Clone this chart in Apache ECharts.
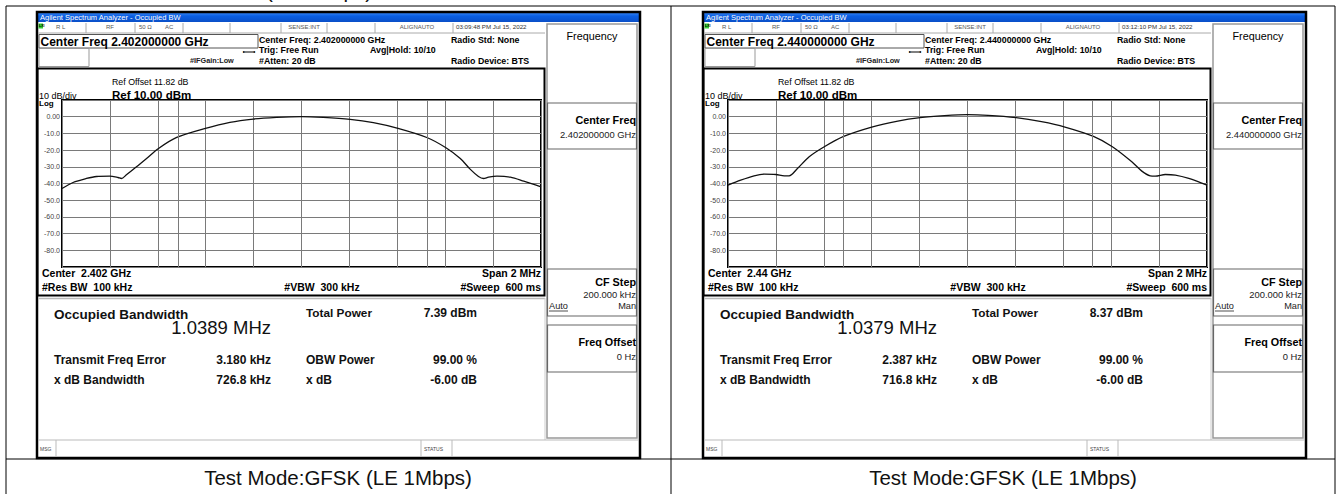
<!DOCTYPE html>
<html>
<head>
<meta charset="utf-8">
<script src="https://cdn.jsdelivr.net/npm/echarts@6/dist/echarts.min.js"></script>
<style>
html, body { margin: 0; padding: 0; background: #fff; }
#main { width: 1338px; height: 494px; }
</style>
</head>
<body>
<div id="main"></div>
<script>
// trace data, frequency offset from center in kHz, level in dBm
var freqL = [-1000, -954, -898, -856, -801, -766, -752, -731, -689, -647, -597, -521, -401, -299, -202, -104, 0, 91, 203, 300, 403, 526, 603, 663, 704, 739, 760, 781, 816, 872, 928, 1000];
var levelL = [-43, -39.4, -37, -35.8, -35.6, -36.4, -37, -34.8, -30, -25, -19, -12.4, -7, -3.4, -1.4, -0.4, 0.1, -0.4, -1.6, -3.6, -7, -12.6, -18.6, -25, -31.4, -35.8, -37, -36.2, -35.6, -36.2, -38.6, -42];
var freqR = [-1000, -947, -891, -849, -800, -765, -745, -710, -661, -598, -517, -400, -291, -198, -96, 0, 86, 203, 309, 407, 526, 605, 686, 728, 763, 784, 826, 868, 924, 1000];
var levelR = [-41, -38, -35.4, -34.4, -34.6, -35.4, -35.4, -31, -24, -18, -11.8, -6.2, -2.6, -0.6, 0.6, 1.2, 0.8, -0.6, -3, -6.2, -11.8, -18, -27, -32.6, -35.4, -35.6, -34.6, -35, -37, -41];
// occupied bandwidth edges (kHz)
var obwEdgesL = [-516, 523];
var obwEdgesR = [-517, 521];

var yTickValues = [0, -10, -20, -30, -40, -50, -60, -70, -80];
var yTickLabels = ['0.00', '-10.0', '-20.0', '-30.0', '-40.0', '-50.0', '-60.0', '-70.0', '-80.0'];

var centerFreqs = ['2.402000000 GHz', '2.440000000 GHz'];
var centerShort = ['2.402 GHz', '2.44 GHz'];
var timestamps = ['03:09:48 PM Jul 15, 2022', '03:12:10 PM Jul 15, 2022'];
var obwValues = ['1.0389 MHz', '1.0379 MHz'];
var totalPowers = ['7.39 dBm', '8.37 dBm'];
var freqErrors = ['3.180 kHz', '2.387 kHz'];
var xdbBandwidths = ['726.8 kHz', '716.8 kHz'];
var testModes = ['Test Mode:GFSK (LE 1Mbps)', 'Test Mode:GFSK (LE 1Mbps)'];

var FONT = '"Liberation Sans", Arial, sans-serif';

function T(x, y, text, size, opt) {
    opt = opt || {};
    return {
        type: 'text', z: 100, silent: true,
        style: {
            x: x, y: y, text: text,
            font: (opt.bold ? 'bold ' : '') + size + 'px ' + FONT,
            fill: opt.color || '#000',
            textAlign: opt.align || 'left',
            textVerticalAlign: opt.valign || 'middle'
        }
    };
}
function R(x, y, w, h, stroke, lw, fill) {
    return {
        type: 'rect', z: 90, silent: true,
        shape: { x: x, y: y, width: w, height: h },
        style: { fill: fill || 'none', stroke: stroke || null, lineWidth: lw || 1 }
    };
}
function L(x1, y1, x2, y2, color, lw) {
    return {
        type: 'line', z: 95, silent: true,
        shape: { x1: x1, y1: y1, x2: x2, y2: y2 },
        style: { stroke: color || '#000', lineWidth: lw || 1 }
    };
}

// one analyzer screenshot, dx = horizontal shift
function screen(i, dx) {
    var g = [];
    var x = function (v) { return v + dx; };
    // title bar
    g.push({
        type: 'rect', z: 80, silent: true,
        shape: { x: x(37), y: 12, width: 603, height: 10 },
        style: { fill: new echarts.graphic.LinearGradient(0, 0, 0, 1, [
            { offset: 0, color: '#3f8cf6' }, { offset: 0.4, color: '#0b5fe3' }, { offset: 1, color: '#0a4fc8' }]) }
    });
    g.push(T(x(40), 17.5, 'Agilent Spectrum Analyzer - Occupied BW', 7.5, { color: '#fff' }));
    // window frame
    g.push(R(x(37), 12, 603, 446, '#000', 2.5));
    // status row
    g.push(R(x(38.5), 23.5, 4.5, 5, null, 1, '#33cc33'));
    g.push(T(x(39), 26, 'LXI', 3.5, { bold: true }));
    g.push(T(x(56), 26.5, 'R L', 6, { color: '#555' }));
    g.push(T(x(106), 26.5, 'RF', 6, { color: '#555' }));
    g.push(T(x(139), 26.5, '50 Ω', 6, { color: '#555' }));
    g.push(T(x(165), 26.5, 'AC', 6, { color: '#555' }));
    g.push(T(x(304), 26.5, 'SENSE:INT', 6, { color: '#555', align: 'center' }));
    g.push(T(x(417), 26.5, 'ALIGNAUTO', 6, { color: '#555', align: 'center' }));
    g.push(T(x(456), 26.5, timestamps[i], 6.2, { color: '#333' }));
    [86, 135, 183, 230, 281, 327, 375, 453].forEach(function (v) {
        g.push(L(x(v), 23, x(v), 33, '#aaa', 1));
    });
    g.push(L(x(38), 33, x(545), 33, '#aaa', 1));
    // center freq box
    g.push(R(x(39), 34.5, 219, 13.5, '#555', 1));
    g.push(T(x(40.5), 41.5, 'Center Freq ' + centerFreqs[i], 12, { bold: true }));
    g.push(R(x(39), 48.5, 50, 18, '#999', 1));
    g.push(L(x(243), 52, x(255), 52, '#000', 1));
    g.push(T(x(243), 51.5, '▸', 4));
    g.push(T(x(255), 51.5, '◂', 4, { align: 'right' }));
    g.push(T(x(190), 60, '#IFGain:Low', 7.3, { bold: true, color: '#222' }));
    g.push(T(x(259), 40, 'Center Freq: ' + centerFreqs[i], 8.8, { bold: true }));
    g.push(T(x(259), 49.5, 'Trig: Free Run', 8.8, { bold: true }));
    g.push(T(x(259), 60.5, '#Atten: 20 dB', 8.8, { bold: true }));
    g.push(T(x(370), 49.5, 'Avg|Hold: 10/10', 8.8, { bold: true }));
    g.push(T(x(451), 39.5, 'Radio Std: None', 8.8, { bold: true }));
    g.push(T(x(451), 60.5, 'Radio Device: BTS', 8.8, { bold: true }));
    // softkey panel
    g.push(R(x(547), 24, 90, 414, '#999', 1.5));
    g.push(T(x(592), 35.5, 'Frequency', 10.8, { align: 'center' }));
    g.push(R(x(547.5), 103, 89, 46, '#666', 1.2));
    g.push(T(x(636), 120, 'Center Freq', 10.8, { bold: true, align: 'right' }));
    g.push(T(x(636), 134, centerFreqs[i], 9.4, { align: 'right', color: '#222' }));
    g.push(R(x(547.5), 269, 89, 47, '#666', 1.2));
    g.push(T(x(636), 282, 'CF Step', 10.8, { bold: true, align: 'right' }));
    g.push(T(x(636), 294, '200.000 kHz', 9.4, { align: 'right', color: '#222' }));
    g.push(T(x(549), 305.5, 'Auto', 9.2, { color: '#222' }));
    g.push(L(x(549), 311, x(568), 311, '#222', 0.8));
    g.push(T(x(636), 305.5, 'Man', 9.2, { align: 'right', color: '#222' }));
    g.push(R(x(547.5), 325, 89, 47, '#666', 1.2));
    g.push(T(x(636), 342, 'Freq Offset', 10.8, { bold: true, align: 'right' }));
    g.push(T(x(636), 356, '0 Hz', 9.4, { align: 'right', color: '#222' }));
    // measurement frame
    g.push(R(x(37.5), 68.5, 507, 227, '#000', 2));
    g.push(T(x(112), 82, 'Ref Offset 11.82 dB', 8.8));
    g.push(T(x(39), 95.5, '10 dB/div', 9));
    g.push(T(x(112), 95, 'Ref 10.00 dBm', 11.5, { bold: true }));
    g.push(T(x(39), 103, 'Log', 8, { bold: true }));
    g.push(T(x(42), 273, 'Center  ' + centerShort[i], 10.5, { bold: true }));
    g.push(T(x(541), 273, 'Span 2 MHz', 10.5, { bold: true, align: 'right' }));
    g.push(T(x(42), 286.5, '#Res BW  100 kHz', 10.5, { bold: true }));
    g.push(T(x(322), 286.5, '#VBW  300 kHz', 10.5, { bold: true, align: 'center' }));
    g.push(T(x(541), 286.5, '#Sweep  600 ms', 10.5, { bold: true, align: 'right' }));
    // results
    g.push(L(x(38), 298.5, x(545), 298.5, '#bbb', 1.5));
    g.push(L(x(545), 298, x(545), 440, '#ccc', 1));
    g.push(T(x(54), 314, 'Occupied Bandwidth', 13.5, { bold: true, color: '#111' }));
    g.push(T(x(271), 327, obwValues[i], 18.5, { align: 'right', color: '#111' }));
    g.push(T(x(306), 313, 'Total Power', 11.8, { bold: true, color: '#111' }));
    g.push(T(x(477), 313, totalPowers[i], 12, { bold: true, color: '#111', align: 'right' }));
    g.push(T(x(54), 360, 'Transmit Freq Error', 12, { bold: true, color: '#111' }));
    g.push(T(x(271), 360, freqErrors[i], 12, { bold: true, color: '#111', align: 'right' }));
    g.push(T(x(306), 360, 'OBW Power', 12, { bold: true, color: '#111' }));
    g.push(T(x(477), 360, '99.00 %', 12, { bold: true, color: '#111', align: 'right' }));
    g.push(T(x(54), 380, 'x dB Bandwidth', 12, { bold: true, color: '#111' }));
    g.push(T(x(271), 380, xdbBandwidths[i], 12, { bold: true, color: '#111', align: 'right' }));
    g.push(T(x(306), 380, 'x dB', 12, { bold: true, color: '#111' }));
    g.push(T(x(477), 380, '-6.00 dB', 12, { bold: true, color: '#111', align: 'right' }));
    // message bar
    g.push(L(x(38), 440, x(639), 440, '#bbb', 1));
    g.push(L(x(56), 440, x(56), 457, '#bbb', 1));
    g.push(L(x(421), 440, x(421), 457, '#bbb', 1));
    g.push(L(x(452), 440, x(452), 457, '#bbb', 1));
    g.push(T(x(40), 448.5, 'MSG', 5, { color: '#444' }));
    g.push(T(x(424), 448.5, 'STATUS', 5, { color: '#444' }));
    return g;
}

var graphics = [];
// table lines
graphics.push(L(6, 6, 1335, 6, '#000', 1));
graphics.push(L(6, 6, 6, 494, '#000', 1));
graphics.push(L(1335, 6, 1335, 494, '#000', 1));
graphics.push(L(671, 6, 671, 494, '#000', 1));
graphics.push(L(6, 459, 1335, 459, '#000', 1));
// cut-off caption of the row above
graphics.push(T(372, 1, testModes[0], 20.5, { align: 'right', valign: 'bottom', color: '#111' }));
graphics = graphics.concat(screen(0, 0), screen(1, 666));
graphics.push(T(338, 477, testModes[0], 20.5, { align: 'center', color: '#111' }));
graphics.push(T(1003, 477, testModes[1], 20.5, { align: 'center', color: '#111' }));

function makeGrid(left) {
    return { left: left, top: 100, width: 479, height: 167, show: true, backgroundColor: '#fff', borderColor: '#000', borderWidth: 2 };
}
function makeX(idx) {
    return {
        type: 'value', gridIndex: idx, min: -1000, max: 1000, interval: 200,
        axisLine: { show: false }, axisTick: { show: false }, axisLabel: { show: false },
        splitLine: { show: true, lineStyle: { color: '#7a7a7a', width: 1 } }
    };
}
function makeY(idx) {
    return {
        type: 'value', gridIndex: idx, min: -90, max: 10, interval: 10,
        axisLine: { show: false }, axisTick: { show: false },
        axisLabel: {
            margin: 2, fontSize: 7, color: '#444', fontFamily: FONT,
            formatter: function (v) {
                var k = yTickValues.indexOf(v);
                return k < 0 ? '' : yTickLabels[k];
            }
        },
        splitLine: { show: true, lineStyle: { color: '#7a7a7a', width: 1 } }
    };
}
function makeSeries(idx, freq, level, edges) {
    return {
        type: 'line', xAxisIndex: idx, yAxisIndex: idx,
        data: freq.map(function (f, k) { return [f, level[k]]; }),
        showSymbol: false, smooth: 0.3,
        lineStyle: { color: '#111', width: 1.3 },
        markLine: {
            silent: true, symbol: ['none', 'none'], label: { show: false },
            lineStyle: { color: '#7a7a7a', type: 'solid', width: 1 },
            data: [{ xAxis: edges[0] }, { xAxis: edges[1] }]
        }
    };
}

var chart = echarts.init(document.getElementById('main'), null, { renderer: 'svg' });
var option = {
    animation: false,
    backgroundColor: '#fff',
    grid: [makeGrid(62), makeGrid(728)],
    xAxis: [makeX(0), makeX(1)],
    yAxis: [makeY(0), makeY(1)],
    series: [makeSeries(0, freqL, levelL, obwEdgesL), makeSeries(1, freqR, levelR, obwEdgesR)],
    graphic: { elements: graphics }
};
chart.setOption(option);
</script>
</body>
</html>
